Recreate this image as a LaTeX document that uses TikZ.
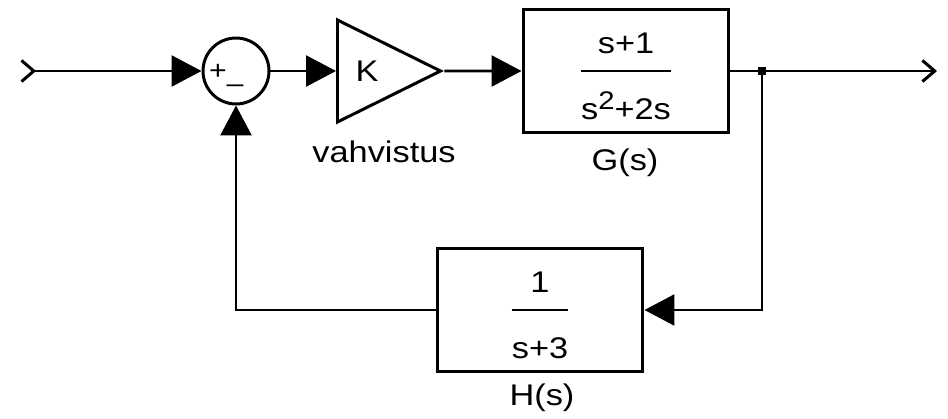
\documentclass[tikz,border=0pt]{standalone}
\usepackage{fontspec}
\setmainfont{Liberation Sans}[FakeStretch=1.15]
\usetikzlibrary{shapes.geometric,arrows.meta}
\tikzstyle{blk}=[draw, rectangle, minimum width=4.12cm, minimum height=2.48cm, inner sep=0]
\tikzstyle{sumj}=[draw, circle, minimum size=1.32cm, inner sep=0]
\tikzstyle{amp}=[draw, isosceles triangle, isosceles triangle stretches, minimum width=2.04cm, minimum height=2.06cm, inner sep=0, anchor=west]
\tikzstyle{lbl}=[inner sep=0]
\tikzstyle{sgn}=[inner sep=0, font=\fontsize{15}{17}\selectfont]
\tikzstyle{pt}=[fill, rectangle, minimum size=5pt, inner sep=0]
\tikzstyle{sig}=[-{Triangle[length=17pt, width=17.5pt]}]
\newcommand{\blockfrac}[2]{\setlength{\arrayrulewidth}{1.7pt}%
\begin{tabular}{@{}c@{}}\rule{0pt}{23.6pt}#1\\[3pt]\hline\rule{0pt}{26.6pt}#2\end{tabular}}
\newcommand{\sqr}{\raisebox{5.7pt}{\fontsize{14.5}{16}\selectfont 2}}

\begin{document}
\begin{tikzpicture}[x=0.02cm, y=-0.02cm, line width=1.7pt, font=\fontsize{17}{20}\selectfont]
\useasboundingbox (0,0) rectangle (948,419);
\coordinate (in) at (20,71);
\node[sumj] (sum) at (236,71) {};
\node[sgn] (plus) at (218,72) {+};
\node[sgn] (minus) at (235,89) {--};
\node[amp] (amp) at (336,71) {K};
\node[lbl] (gain) at (384,152) {vahvistus};
\node[blk] (G) at (626,71) {\blockfrac{s+1}{s\sqr+2s}};
\node[lbl] (Glab) at (625,163) {G(s)};
\node[pt] (branch) at (762,71) {};
\coordinate (out) at (937,71);
\node[blk] (H) at (540,310) {\blockfrac{1}{s+3}};
\node[lbl] (Hlab) at (542,398) {H(s)};
% forward path
\draw[{Straight Barb[reversed, length=7pt, width=12pt]}-{Triangle[length=17pt, width=17.5pt]}] (in) -- (sum);
\draw[sig] (sum) -- (amp.west);
\draw[sig] (amp.east) -- (G.west);
\draw[-{Straight Barb[length=7pt, width=12pt]}] (G.east) -- (out);
% feedback
\draw[sig] (branch.center) |- (H.east);
\draw[sig] (H.west) -| (sum.south);
\end{tikzpicture}
\end{document}
